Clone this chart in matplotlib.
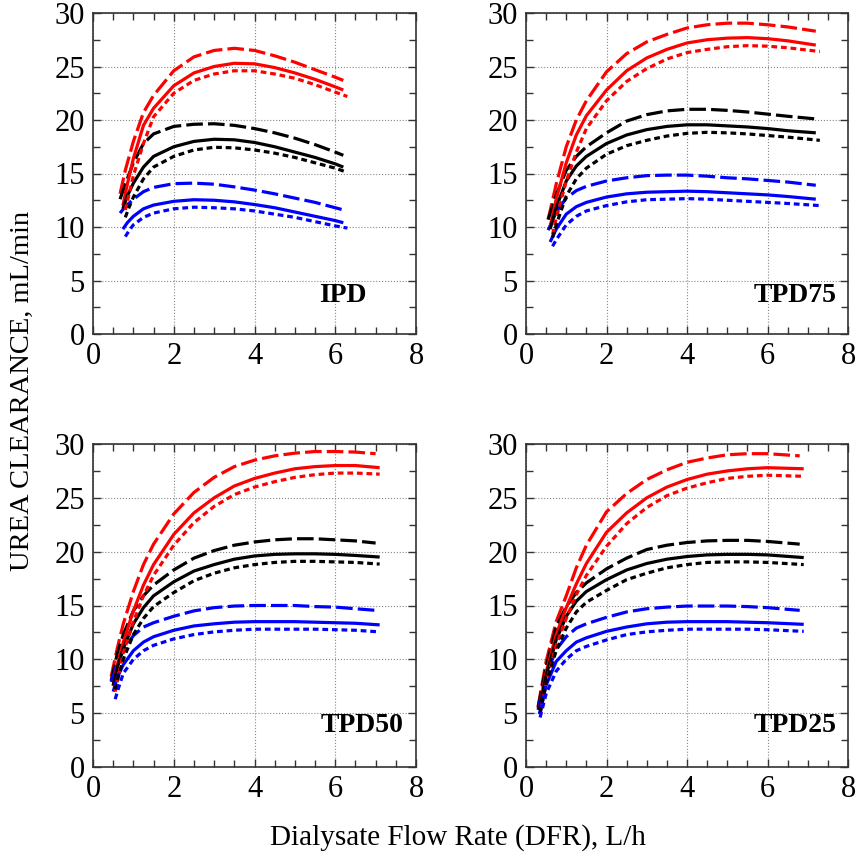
import matplotlib
matplotlib.use("Agg")
import matplotlib.pyplot as plt
from matplotlib.ticker import MultipleLocator

plt.rcParams['font.family'] = ['Liberation Serif', 'DejaVu Serif']

# ---------------- data ----------------
panel_names = ["IPD", "TPD75", "TPD50", "TPD25"]
x_ticks = [0, 2, 4, 6, 8]
y_ticks = [0, 5, 10, 15, 20, 25, 30]

# IPD
ipd_x_dash = [0.67, 0.8, 1.0, 1.25, 1.5, 2.0, 2.5, 3.0, 3.5, 4.0, 4.5, 5.0, 5.5, 6.0, 6.2]
ipd_x_solid = [0.74, 0.85, 1.0, 1.25, 1.5, 2.0, 2.5, 3.0, 3.5, 4.0, 4.5, 5.0, 5.5, 6.0, 6.2]
ipd_x_dot = [0.8, 0.9, 1.0, 1.25, 1.5, 2.0, 2.5, 3.0, 3.5, 4.0, 4.5, 5.0, 5.5, 6.0, 6.3]
ipd_red_dash = [13.1, 15.3, 18.0, 20.7, 22.3, 24.6, 25.9, 26.5, 26.7, 26.5, 26.0, 25.4, 24.7, 24.0, 23.7]
ipd_red_solid = [12.0, 14.0, 16.4, 19.5, 21.1, 23.2, 24.4, 25.0, 25.3, 25.25, 24.9, 24.4, 23.8, 23.1, 22.8]
ipd_red_dot = [11.6, 13.2, 14.8, 17.8, 20.3, 22.5, 23.7, 24.3, 24.6, 24.6, 24.3, 23.9, 23.3, 22.6, 22.2]
ipd_black_dash = [12.6, 14.0, 16.0, 17.8, 18.7, 19.4, 19.6, 19.65, 19.5, 19.2, 18.8, 18.3, 17.7, 17.0, 16.7]
ipd_black_solid = [11.7, 12.9, 14.1, 15.6, 16.6, 17.5, 18.0, 18.2, 18.15, 17.9, 17.5, 17.0, 16.5, 15.9, 15.6]
ipd_black_dot = [10.9, 11.9, 12.8, 14.5, 15.6, 16.6, 17.2, 17.45, 17.4, 17.2, 16.9, 16.5, 16.0, 15.5, 15.1]
ipd_blue_dash = [11.3, 11.9, 12.6, 13.3, 13.7, 14.05, 14.1, 14.0, 13.75, 13.45, 13.1, 12.7, 12.3, 11.8, 11.6]
ipd_blue_solid = [9.8, 10.4, 11.0, 11.7, 12.05, 12.4, 12.55, 12.5, 12.35, 12.1, 11.8, 11.4, 11.0, 10.6, 10.4]
ipd_blue_dot = [9.1, 9.7, 10.2, 10.9, 11.3, 11.7, 11.85, 11.8, 11.7, 11.5, 11.2, 10.9, 10.5, 10.1, 9.9]

# TPD75
t75_x_dash = [0.55, 0.75, 1.0, 1.25, 1.5, 2.0, 2.5, 3.0, 3.5, 4.0, 4.5, 5.0, 5.5, 6.0, 6.5, 7.2]
t75_x_solid = [0.6, 0.75, 1.0, 1.25, 1.5, 2.0, 2.5, 3.0, 3.5, 4.0, 4.5, 5.0, 5.5, 6.0, 6.5, 7.2]
t75_x_dot = [0.66, 0.75, 1.0, 1.25, 1.5, 2.0, 2.5, 3.0, 3.5, 4.0, 4.5, 5.0, 5.5, 6.0, 6.5, 7.3]
t75_red_dash = [10.7, 14.0, 17.5, 20.0, 21.8, 24.5, 26.2, 27.3, 28.0, 28.6, 28.9, 29.05, 29.05, 28.9, 28.7, 28.3]
t75_red_solid = [10.0, 12.6, 16.0, 18.6, 20.4, 22.8, 24.6, 25.8, 26.6, 27.2, 27.5, 27.65, 27.7, 27.6, 27.4, 27.0]
t75_red_dot = [9.3, 10.8, 14.3, 17.0, 19.2, 21.8, 23.6, 24.8, 25.7, 26.3, 26.6, 26.85, 26.95, 26.9, 26.75, 26.4]
t75_black_dash = [10.7, 13.0, 15.3, 16.6, 17.5, 18.8, 19.9, 20.5, 20.85, 21.0, 21.0, 20.9, 20.75, 20.55, 20.35, 20.1]
t75_black_solid = [9.8, 11.8, 14.3, 15.7, 16.6, 17.8, 18.6, 19.1, 19.4, 19.55, 19.55, 19.45, 19.35, 19.2, 19.0, 18.8]
t75_black_dot = [9.0, 10.2, 12.9, 14.5, 15.5, 16.8, 17.6, 18.1, 18.5, 18.75, 18.85, 18.8, 18.7, 18.55, 18.4, 18.1]
t75_blue_dash = [9.7, 11.4, 12.7, 13.4, 13.8, 14.3, 14.6, 14.8, 14.85, 14.85, 14.75, 14.6, 14.5, 14.35, 14.2, 13.9]
t75_blue_solid = [8.6, 9.8, 11.2, 11.9, 12.3, 12.8, 13.1, 13.25, 13.3, 13.35, 13.3, 13.2, 13.1, 13.0, 12.85, 12.6]
t75_blue_dot = [8.2, 8.8, 10.2, 11.0, 11.5, 12.0, 12.35, 12.55, 12.6, 12.65, 12.6, 12.5, 12.4, 12.3, 12.2, 12.0]

# TPD50
t50_x_dash = [0.45, 0.6, 0.75, 1.0, 1.25, 1.5, 2.0, 2.5, 3.0, 3.5, 4.0, 4.5, 5.0, 5.5, 6.0, 6.5, 7.0]
t50_x_solid = [0.5, 0.6, 0.75, 1.0, 1.25, 1.5, 2.0, 2.5, 3.0, 3.5, 4.0, 4.5, 5.0, 5.5, 6.0, 6.5, 7.1]
t50_x_dot = [0.55, 0.62, 0.75, 1.0, 1.25, 1.5, 2.0, 2.5, 3.0, 3.5, 4.0, 4.5, 5.0, 5.5, 6.0, 6.5, 7.1]
t50_red_dash = [8.4, 11.0, 13.3, 16.3, 18.8, 20.7, 23.5, 25.5, 26.9, 27.9, 28.5, 28.9, 29.15, 29.3, 29.3, 29.25, 29.1]
t50_red_solid = [7.5, 9.5, 11.6, 14.5, 16.9, 18.8, 21.6, 23.6, 25.0, 26.1, 26.8, 27.3, 27.7, 27.9, 28.0, 28.0, 27.8]
t50_red_dot = [7.0, 8.3, 10.6, 13.5, 15.9, 17.8, 20.6, 22.7, 24.2, 25.3, 26.0, 26.5, 26.9, 27.15, 27.3, 27.3, 27.2]
t50_black_dash = [8.0, 10.5, 12.3, 14.5, 15.9, 16.9, 18.3, 19.4, 20.1, 20.6, 20.9, 21.1, 21.2, 21.2, 21.1, 21.0, 20.8]
t50_black_solid = [7.6, 9.2, 11.0, 13.3, 14.8, 15.9, 17.2, 18.2, 18.8, 19.3, 19.6, 19.75, 19.8, 19.8, 19.75, 19.65, 19.5]
t50_black_dot = [7.2, 8.3, 10.0, 12.3, 13.8, 14.9, 16.2, 17.3, 18.0, 18.5, 18.8, 19.0, 19.1, 19.1, 19.05, 19.0, 18.85]
t50_blue_dash = [7.9, 9.6, 10.9, 12.2, 13.0, 13.4, 14.0, 14.5, 14.8, 14.95, 15.0, 15.0, 15.0, 14.9, 14.85, 14.7, 14.55]
t50_blue_solid = [7.0, 8.3, 9.5, 10.8, 11.6, 12.1, 12.7, 13.1, 13.3, 13.45, 13.5, 13.5, 13.5, 13.45, 13.4, 13.35, 13.2]
t50_blue_dot = [6.3, 7.2, 8.7, 10.0, 10.8, 11.3, 11.9, 12.3, 12.55, 12.7, 12.8, 12.8, 12.8, 12.8, 12.75, 12.7, 12.55]

# TPD25
t25_x_dash = [0.3, 0.5, 0.75, 1.0, 1.25, 1.5, 2.0, 2.5, 3.0, 3.5, 4.0, 4.5, 5.0, 5.5, 6.0, 6.8]
t25_x_solid = [0.33, 0.5, 0.75, 1.0, 1.25, 1.5, 2.0, 2.5, 3.0, 3.5, 4.0, 4.5, 5.0, 5.5, 6.0, 6.9]
t25_x_dot = [0.35, 0.5, 0.75, 1.0, 1.25, 1.5, 2.0, 2.5, 3.0, 3.5, 4.0, 4.5, 5.0, 5.5, 6.0, 6.9]
t25_red_dash = [5.6, 9.8, 13.5, 15.9, 18.5, 20.6, 23.7, 25.4, 26.7, 27.6, 28.3, 28.7, 29.0, 29.1, 29.1, 28.9]
t25_red_solid = [5.3, 8.8, 12.3, 14.8, 17.0, 18.9, 21.8, 23.6, 25.0, 26.0, 26.7, 27.2, 27.5, 27.7, 27.8, 27.7]
t25_red_dot = [4.9, 7.8, 11.3, 13.8, 16.0, 17.8, 20.5, 22.6, 24.1, 25.2, 25.9, 26.4, 26.8, 27.0, 27.1, 27.0]
t25_black_dash = [5.5, 9.3, 13.0, 14.9, 16.2, 17.1, 18.4, 19.4, 20.2, 20.6, 20.85, 21.0, 21.05, 21.05, 20.95, 20.7]
t25_black_solid = [5.3, 8.5, 11.8, 14.0, 15.4, 16.3, 17.4, 18.3, 18.9, 19.3, 19.55, 19.7, 19.75, 19.75, 19.7, 19.45]
t25_black_dot = [5.0, 7.8, 10.8, 12.9, 14.4, 15.3, 16.4, 17.4, 18.0, 18.5, 18.8, 19.0, 19.05, 19.05, 19.0, 18.8]
t25_blue_dash = [5.3, 8.6, 10.9, 12.1, 12.9, 13.3, 13.9, 14.4, 14.7, 14.85, 14.95, 14.95, 14.95, 14.9, 14.8, 14.55]
t25_blue_solid = [4.9, 7.6, 9.8, 10.8, 11.6, 12.0, 12.6, 13.0, 13.3, 13.45, 13.5, 13.5, 13.5, 13.45, 13.4, 13.25]
t25_blue_dot = [4.6, 6.8, 8.9, 10.0, 10.8, 11.2, 11.8, 12.3, 12.55, 12.7, 12.8, 12.8, 12.8, 12.8, 12.75, 12.6]

panels = [
    (ipd_x_dash, ipd_x_solid, ipd_x_dot,
     [ipd_red_dash, ipd_black_dash, ipd_blue_dash],
     [ipd_red_solid, ipd_black_solid, ipd_blue_solid],
     [ipd_red_dot, ipd_black_dot, ipd_blue_dot]),
    (t75_x_dash, t75_x_solid, t75_x_dot,
     [t75_red_dash, t75_black_dash, t75_blue_dash],
     [t75_red_solid, t75_black_solid, t75_blue_solid],
     [t75_red_dot, t75_black_dot, t75_blue_dot]),
    (t50_x_dash, t50_x_solid, t50_x_dot,
     [t50_red_dash, t50_black_dash, t50_blue_dash],
     [t50_red_solid, t50_black_solid, t50_blue_solid],
     [t50_red_dot, t50_black_dot, t50_blue_dot]),
    (t25_x_dash, t25_x_solid, t25_x_dot,
     [t25_red_dash, t25_black_dash, t25_blue_dash],
     [t25_red_solid, t25_black_solid, t25_blue_solid],
     [t25_red_dot, t25_black_dot, t25_blue_dot]),
]
colors = ["#ff0000", "#000000", "#0000ff"]

# ---------------- figure ----------------
fig = plt.figure(figsize=(8.58, 8.57), dpi=100)
W, H = 858, 857
boxes = [(93, 13, 416, 334), (526, 13, 848, 334), (93, 444, 416, 767), (526, 444, 848, 767)]
label_pos = [(0.848, 0.121), (0.966, 0.121), (0.96, 0.127), (0.966, 0.127)]

LW = 2.3
for i, (box, pdata) in enumerate(zip(boxes, panels)):
    x0, y0, x1, y1 = box
    ax = fig.add_axes([x0 / W, 1 - y1 / H, (x1 - x0) / W, (y1 - y0) / H])
    xd, xs, xo, ydash, ysolid, ydot = pdata
    for c, yy in zip(colors, ydash):
        ax.plot(xd, yy, color=c, lw=LW, dashes=(5.2, 1.6), solid_capstyle='butt')
    for c, yy in zip(colors, ysolid):
        ax.plot(xs, yy, color=c, lw=LW, solid_capstyle='butt')
    for c, yy in zip(colors, ydot):
        ax.plot(xo, yy, color=c, lw=LW, dashes=(1.8, 1.2), solid_capstyle='butt')
    ax.set_xlim(0, 8)
    ax.set_ylim(0, 30)
    ax.set_xticks(x_ticks)
    ax.set_yticks(y_ticks)
    ax.xaxis.set_minor_locator(MultipleLocator(0.5))
    ax.yaxis.set_minor_locator(MultipleLocator(2.5))
    ax.tick_params(which='both', direction='in', top=True, right=True,
                   labelsize=22, width=1.0, color='#333333')
    ax.tick_params(which='major', length=6, pad=6)
    ax.tick_params(which='minor', length=5)
    ax.grid(True, which='major', linestyle=':', linewidth=0.8, color='#888888')
    for sp in ax.spines.values():
        sp.set_linewidth(1.2)
        sp.set_color('#333333')
    lx, ly = label_pos[i]
    ax.text(lx, ly, panel_names[i], transform=ax.transAxes, ha='right', va='center',
            fontsize=20, fontweight='bold')

fig.text(22 / W, 1 - 391 / H, "UREA CLEARANCE, mL/min", rotation=90,
         ha='center', va='center', fontsize=20.5)
fig.text(458 / W, 1 - 838 / H, "Dialysate Flow Rate (DFR), L/h",
         ha='center', va='center', fontsize=21)

fig.savefig("out.png", dpi=100)
